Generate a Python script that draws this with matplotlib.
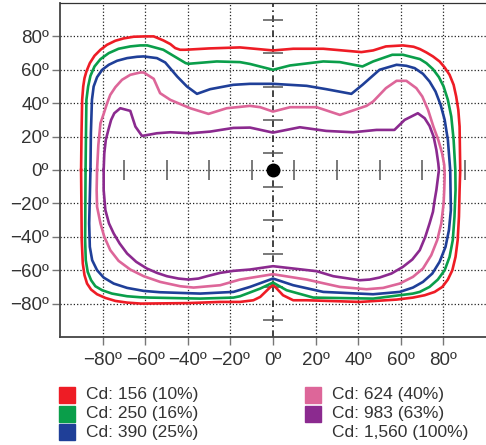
import matplotlib
matplotlib.use('Agg')
import matplotlib.pyplot as plt
from matplotlib.patches import Rectangle

plt.rcParams['font.family'] = ['Liberation Sans', 'DejaVu Sans']

# isocandela contours, (horizontal deg, vertical deg)
red_x = [-90.1, -89.9, -89.6, -89.1, -88.5, -87.6, -86, -83.8, -81, -77.9,
         -74, -70.1, -65.4, -60, -56, -51.5, -48.2, -45.9, -43.6, -41.2, -30,
         -15.5, 0, 9.5, 23.6, 41.5, 47, 53, 61, 66, 69, 72, 75.1, 78.2, 80.6,
         82.9, 84.8, 86, 87, 87.6, 87.9, 87.6, 87.3, 86.7, 85.7, 84.2, 82.1,
         79.5, 75.9, 71.2, 65.7, 58, 40.8, 15.8, 9.5, 4.7, 0, -6, -9.2, -15.5,
         -24.8, -40, -62, -68.5, -74, -78.7, -82.6, -85.4, -87.3, -88.5,
         -89.3, -89.8, -90.1]
red_y = [0, 22, 42, 50, 55, 59, 64, 68.4, 72, 75,
         77.4, 78.8, 79.8, 80, 80, 77.6, 75.4, 73, 72, 72, 72.8,
         73.4, 71.6, 72.6, 72.6, 70.6, 71.6, 74, 74.6, 73.8, 72.4, 70.4, 68,
         65, 61.4, 57, 51, 44, 36, 26, 0, -12, -28, -42, -52, -60, -65.6,
         -70, -73, -75, -76.4, -77.6, -79, -78, -78, -75, -68.6, -76, -78,
         -79, -79, -79.7, -80, -79.4, -78.4, -76.6, -74.4, -71.6, -68, -63,
         -56, -42, 0]

green_x = [-88, -87.8, -87.6, -86.8, -85.7, -83.8, -81, -77.1, -72.5, -67,
           -62.3, -59, -51.5, -41, -39.7, -26.4, -15.5, -10.8, 0, 8, 23.6,
           31.4, 42, 47, 56, 61, 69, 72, 75.1, 77.9, 80.1, 82.1, 83.7, 84.8,
           85.6, 85.7, 85.2, 84.4, 82.9, 80.6, 77.4, 73.5, 68.9, 65.7, 47,
           18.9, 6.4, 0, -6, -15.5, -18.6, -34.2, -57.6, -62.3, -68.5, -75.6,
           -80.2, -83.4, -85.4, -87, -87.9, -88.2, -88]
green_y = [0, 22, 42, 50, 56.4, 62, 66.4, 70, 72.6, 74,
           74.6, 74.6, 72, 64, 63.6, 65, 64.6, 63.5, 60, 62.6, 65,
           64.6, 62, 65, 69, 69, 66.4, 64, 60.4, 55.6, 50, 42, 32, 18,
           0, -12, -28, -42, -52, -60, -65.6, -70, -73, -74, -77,
           -76.4, -72, -67.4, -71, -75.6, -76.4, -77, -76.4, -76.2, -75.6, -74,
           -72, -69.6, -66, -61, -54, -42, 0]

blue_x = [-85.7, -85.5, -85, -84.2, -82.6, -80.2, -77.1, -73.2, -68.5, -63.8,
          -60.7, -54.5, -50.6, -45, -40.4, -35.7, -29.5, -18.7, -10.8, 0,
          15.8, 25, 36.8, 42, 50, 58, 62.6, 66.5, 70.4, 73.5, 76.3, 78.7,
          80.6, 82.1, 83.2, 83.5, 82.6, 81, 78.2, 74.8, 70.4, 65.7, 59.5, 47,
          23.6, 9.5, 0, -10.8, -18.6, -34.2, -53, -60.7, -68.5, -74.8, -79.5,
          -82.6, -84.9, -86, -86.3, -85.7]
blue_y = [0, 22, 42, 50, 55.6, 60, 63, 65.4, 67, 67.8,
          68, 67, 64.4, 56, 50, 45.6, 48.4, 51, 51.6, 51.6,
          50.4, 48.4, 45.6, 51, 60, 63, 62.4, 61, 57.6, 53, 47, 39,
          30, 18, 0, -24, -36, -46, -55, -62, -67, -70.4, -73, -74.4,
          -73, -69, -65, -70, -73, -74, -73.2, -72.4, -70.6, -68, -64.4,
          -60, -54, -46, -32, 0]

pink_x = [-82.6, -82, -81, -79.4, -77.9, -76.4, -74, -70.9, -67, -62.3, -60.7,
          -56, -53, -48.2, -38.9, -30.3, -21.7, -10.8, -6, 0, 8, 20.5, 31.4,
          43.9, 47, 53, 58, 62.6, 67.3, 70.1, 72.8, 75.3, 77.6, 79.4, 80.4,
          80.6, 80.4, 80.1, 79, 77.1, 74.3, 70.4, 65.7, 59.5, 51.7, 43.9, 31.4,
          15.8, 0, -15.5, -24.8, -37.3, -43.6, -53, -60.7, -67, -72.5, -76.4,
          -79.2, -81, -82.6, -82.8, -82.6]
pink_y = [0, 15, 28, 34, 40, 45, 49.6, 54, 57, 58.4, 58.4,
          54.6, 46, 42, 37, 33.6, 37, 38.4, 37.6, 35, 37.6, 37.6, 33,
          38.4, 41, 49, 53.4, 53.4, 49, 44, 36, 26, 18, 10, 3,
          -3, -12, -20, -32, -42, -51, -59, -64, -68, -70.6, -71.4, -70,
          -65.6, -62.4, -65.6, -69, -70.4, -69.6, -67, -63.6, -59.6, -54.4,
          -48, -40, -32, -22, -12, 0]

purple_x = [-79.5, -79.2, -78.5, -77.3, -76, -74.5, -71.7, -67, -64.6, -61.5,
            -54.5, -48.2, -38.9, -29.5, -18.6, -10.8, 0, 12.6, 25, 37.6, 48.6,
            57, 61.8, 68, 71.2, 73.5, 75.4, 76.7, 77.6, 77.9, 76.7, 75.9, 75.1,
            73.5, 71.5, 68.9, 65.4, 61, 55.6, 50, 45.4, 40.8, 28.3, 20.5, 0,
            -10.8, -18.6, -24.8, -31, -35, -39.7, -44.4, -49.8, -54.5, -59.2,
            -64.2, -68.5, -72, -74.8, -77, -78.7, -79.5, -79.5]
purple_y = [0, 10, 18, 24, 30, 34, 37, 35.4, 26, 20.4,
            22, 22.6, 22, 23, 25.2, 25.4, 22.4, 25.6, 23.4, 22.6, 24,
            24, 30, 34, 31, 26.4, 20, 12, 4, 0, -12, -18, -25,
            -32, -40, -48, -53.6, -58, -62, -64.4, -65.6, -66, -63.6, -60.6,
            -57.6, -59.6, -60.4, -61.6, -63.6, -65, -65.6, -65, -63.6, -61.6,
            -59, -55, -50, -44, -38, -32, -24, -12, 0]

curve_colors = ['#ee1c25', '#0a9e4a', '#1f3f98', '#dd6699', '#8b2a8f']
legend_labels = ['Cd: 156 (10%)', 'Cd: 250 (16%)', 'Cd: 390 (25%)',
                 'Cd: 624 (40%)', 'Cd: 983 (63%)', 'Cd: 1,560 (100%)']

grid_vals = [-80, -60, -40, -20, 20, 40, 60, 80]
tick_vals = [-80, -60, -40, -20, 0, 20, 40, 60, 80]
cross_vals = [-90, -70, -50, -30, -10, 10, 30, 50, 70, 90]


def deg_label(v):
    '''Tick text like the reference: unicode minus and ordinal sign.'''
    return ('\u2212' if v < 0 else '') + str(abs(v)) + '\u00ba'


fig = plt.figure(figsize=(4.86, 4.45), dpi=100)
ax = fig.add_axes([60 / 486, 108 / 445, 426 / 486, 334 / 445])
ax.set_xlim(-100, 100)
ax.set_ylim(-100, 100)

#Grid lines
for g in grid_vals:
    ax.axvline(g, color='#222', ls=':', lw=0.9, zorder=1)
    ax.axhline(g, color='#222', ls=':', lw=0.9, zorder=1)
ax.axhline(0, color='#222', ls=':', lw=0.9, zorder=1)
ax.axvline(0, color='#222', lw=1.2, dashes=(4, 2, 1, 2), zorder=1)

#Small cross marks along the centre lines
ax.hlines(cross_vals, -4.7, 4.7, color='#555', lw=1.1, zorder=2)
ax.vlines(cross_vals, -6, 6, color='#555', lw=1.1, zorder=2)

curves = [(red_x, red_y), (green_x, green_y), (blue_x, blue_y),
          (pink_x, pink_y), (purple_x, purple_y)]
for (cx, cy), c in zip(curves, curve_colors):
    ax.plot(cx, cy, color=c, lw=1.9, solid_joinstyle='round', zorder=3)

ax.plot([0], [0], 'o', color='black', ms=9, zorder=4)

ax.set_xticks(tick_vals)
ax.set_yticks(tick_vals)
ax.set_xticklabels([deg_label(v) for v in tick_vals])
ax.set_yticklabels([deg_label(v) for v in tick_vals])
ax.tick_params(direction='out', length=6, width=1, color='#777',
               labelsize=13.5, labelcolor='#333')
ax.tick_params(axis='y', pad=2)
ax.tick_params(axis='x', pad=5)

ax.spines['right'].set_visible(False)
ax.spines['left'].set_color('#444')
ax.spines['bottom'].set_color('#444')
ax.spines['left'].set_linewidth(1.3)
ax.spines['bottom'].set_linewidth(1.3)
ax.spines['top'].set_color('#333')
ax.spines['top'].set_linewidth(0.9)

#Legend drawn by hand, two columns
W, H = 486, 445
rows_y = [395, 413.5, 432]
col_x = [59, 305]
for i, lab in enumerate(legend_labels):
    col, row = divmod(i, 3)
    yc = rows_y[row]
    if i < len(curve_colors):
        fig.add_artist(Rectangle((col_x[col] / W, 1 - (yc + 8) / H),
                                 16 / W, 16 / H, color=curve_colors[i],
                                 transform=fig.transFigure))
    fig.text((col_x[col] + 27) / W, 1 - yc / H, lab, fontsize=12.5,
             color='#333', va='center', ha='left')

plt.savefig('out.png', dpi=100)
